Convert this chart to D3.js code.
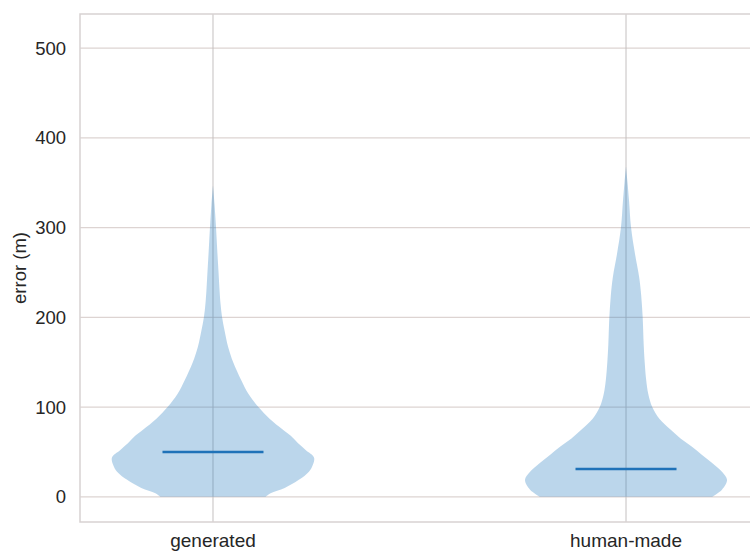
<!DOCTYPE html>
<html lang="en">
<head>
<meta charset="UTF-8">
<title>error violins</title>
<style>
  body { margin: 0; background: #fff; }
  svg { display: block; font-family: "Liberation Sans", Arial, sans-serif; }
</style>
</head>
<body>
<div id="chart"></div>
<script src="https://d3js.org/d3.v7.min.js"></script>
<script>
var categories = ["generated", "human-made"];
var yTicks = [0, 100, 200, 300, 400, 500];

// density profiles: [error value, relative density]
var generatedDensity = [
  [0, 0.52], [4, 0.57], [10, 0.71], [19, 0.85], [28, 0.95], [36, 0.99], [44, 1.0],
  [52, 0.92], [60, 0.84], [68, 0.77], [75, 0.69], [87, 0.56], [100, 0.45],
  [115, 0.35], [130, 0.28], [150, 0.20], [167, 0.15], [185, 0.115], [200, 0.09],
  [215, 0.075], [230, 0.065], [250, 0.055], [275, 0.042], [300, 0.03], [325, 0.016], [347, 0]
];
var humanDensity = [
  [0, 0.85], [8, 0.95], [19, 1.0], [28, 0.95], [38, 0.85], [47, 0.75],
  [56, 0.65], [65, 0.54], [75, 0.44], [87, 0.33], [100, 0.26], [115, 0.22],
  [130, 0.20], [150, 0.185], [170, 0.175], [200, 0.165], [225, 0.15], [245, 0.13],
  [270, 0.09], [300, 0.05], [330, 0.03], [350, 0.015], [368, 0]
];
var medians = [50, 31];
var densities = [generatedDensity, humanDensity];

var width = 750, height = 551;
var plotLeft = 80, plotRight = 759, plotTop = 14, plotBottom = 522;

var svg = d3.select("#chart").append("svg")
    .attr("width", width)
    .attr("height", height);

var x = d3.scalePoint()
    .domain(categories)
    .range([plotLeft, plotRight])
    .padding(0.322);

var y = d3.scaleLinear()
    .domain([-28, 538])
    .range([plotBottom, plotTop]);

var w = d3.scaleLinear()
    .domain([0, 1])
    .range([0, 101]);

// horizontal grid
svg.append("g").selectAll("line")
    .data(yTicks)
    .enter().append("line")
    .attr("x1", plotLeft).attr("x2", plotRight)
    .attr("y1", d => y(d)).attr("y2", d => y(d))
    .attr("stroke", "#ddd4d2")
    .attr("stroke-width", 1.3);

// vertical grid
svg.append("g").selectAll("line")
    .data(categories)
    .enter().append("line")
    .attr("x1", d => x(d)).attr("x2", d => x(d))
    .attr("y1", plotTop).attr("y2", plotBottom)
    .attr("stroke", "#c4c0c0")
    .attr("stroke-width", 1);

// frame
svg.append("rect")
    .attr("x", plotLeft).attr("y", plotTop)
    .attr("width", plotRight - plotLeft).attr("height", plotBottom - plotTop)
    .attr("fill", "none")
    .attr("stroke", "#d8d2d2")
    .attr("stroke-width", 1.5);

// violins
categories.forEach(function(cat, i) {
    var cx = x(cat);
    var area = d3.area()
        .y(d => y(d[0]))
        .x0(d => cx - w(d[1]))
        .x1(d => cx + w(d[1]))
        .curve(d3.curveCatmullRom);

    svg.append("path")
        .datum(densities[i])
        .attr("d", area)
        .attr("fill", "#2a7fc0")
        .attr("fill-opacity", 0.32);

    svg.append("line")
        .attr("x1", cx - w(0.5)).attr("x2", cx + w(0.5))
        .attr("y1", y(medians[i])).attr("y2", y(medians[i]))
        .attr("stroke", "#1f72b8")
        .attr("stroke-width", 2.5);
});

// y tick labels
svg.append("g").selectAll("text")
    .data(yTicks)
    .enter().append("text")
    .attr("x", 66)
    .attr("y", d => y(d))
    .attr("dy", "0.35em")
    .attr("text-anchor", "end")
    .attr("font-size", 18.5)
    .attr("fill", "#262626")
    .text(d => d);

// x labels
svg.append("g").selectAll("text")
    .data(categories)
    .enter().append("text")
    .attr("x", d => x(d))
    .attr("y", 547)
    .attr("text-anchor", "middle")
    .attr("font-size", 19)
    .attr("fill", "#262626")
    .text(d => d);

svg.append("text")
    .attr("transform", "translate(26," + ((plotTop + plotBottom) / 2) + ") rotate(-90)")
    .attr("text-anchor", "middle")
    .attr("font-size", 18.5)
    .attr("fill", "#262626")
    .text("error (m)");
</script>
</body>
</html>
